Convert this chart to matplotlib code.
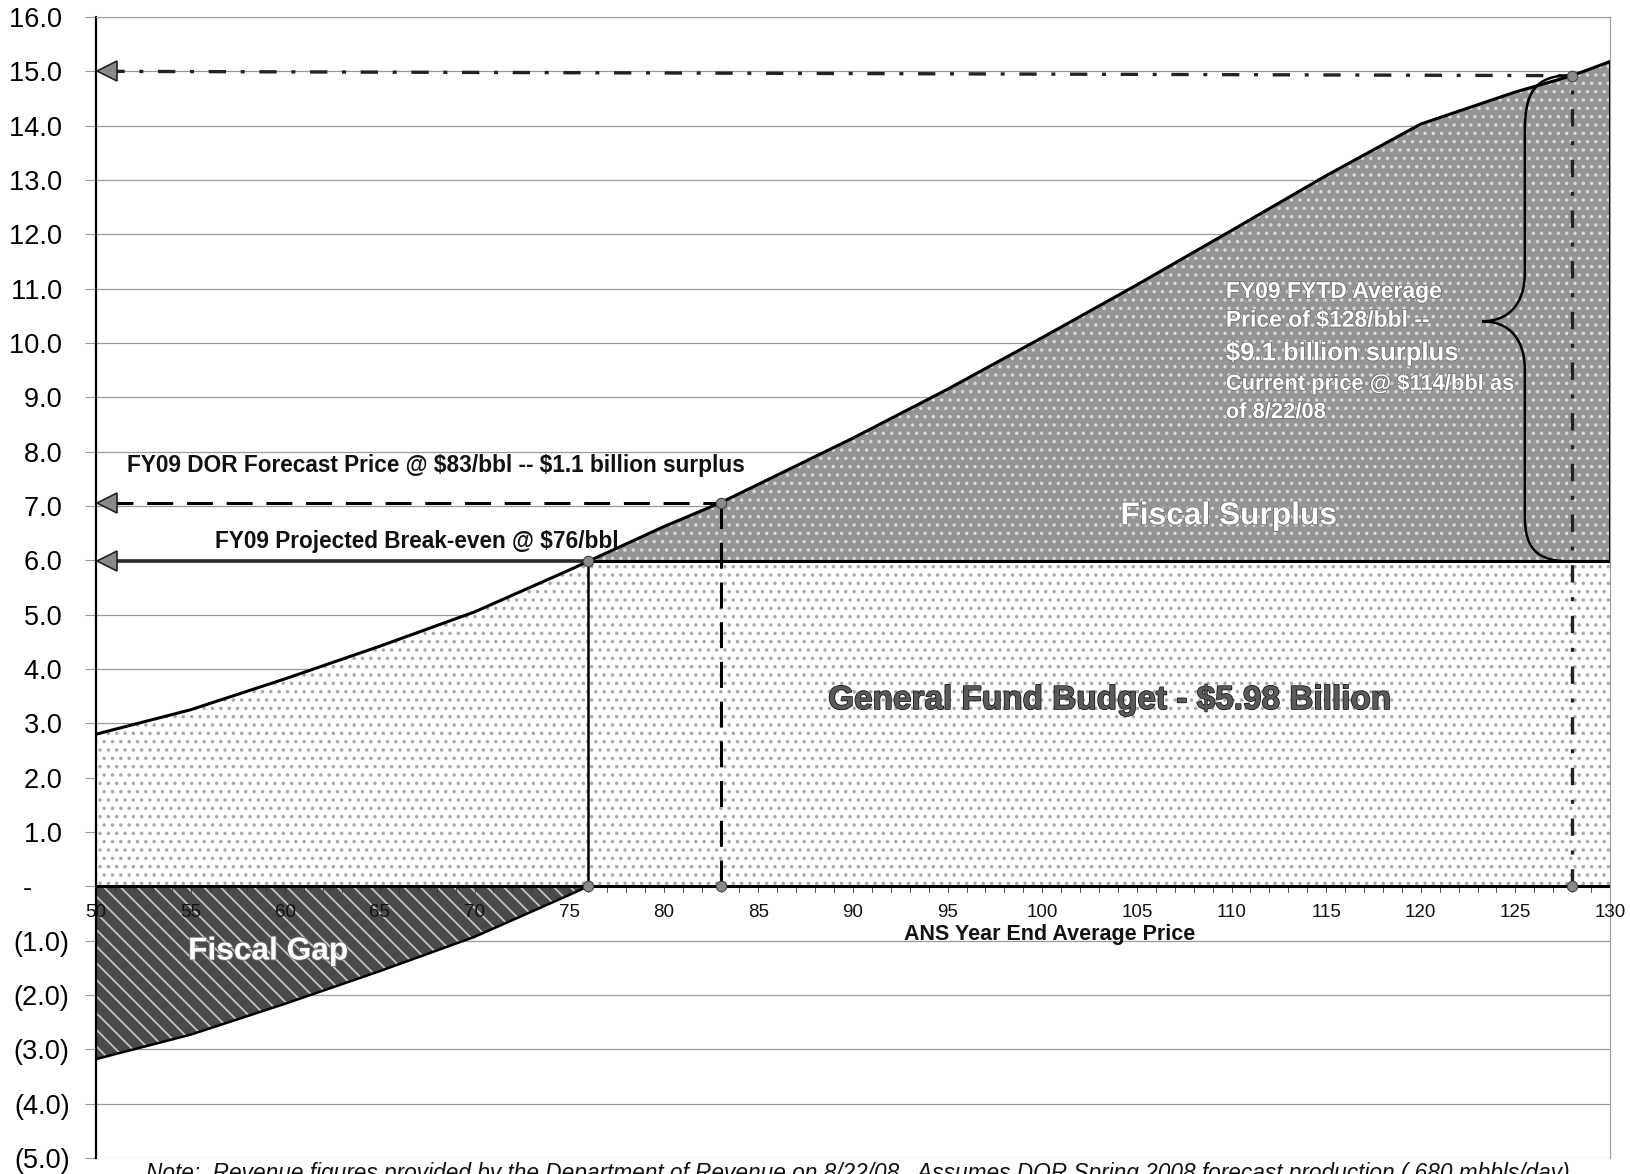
import matplotlib
matplotlib.use('Agg')
import matplotlib.pyplot as plt
import matplotlib.patheffects as pe
from matplotlib.path import Path
from matplotlib.patches import PathPatch
from matplotlib import font_manager
import numpy as np

# ANS price ($/bbl) vs. FY09 unrestricted revenue ($ billions)
price = [50, 55, 60, 65, 70, 75, 76, 80, 83, 85, 90, 95, 100, 105, 110, 115, 120, 125, 128, 130]
revenue = [2.80, 3.25, 3.82, 4.42, 5.05, 5.82, 5.98, 6.62, 7.06, 7.40, 8.25, 9.15,
           10.10, 11.07, 12.07, 13.08, 14.03, 14.62, 14.92, 15.18]
budget = 5.98
breakeven_price = 76
dor_price = 83
fytd_price = 128
fytd_level = 15.0

y_ticks = list(range(-5, 17))
y_labels = []
for v in y_ticks:
    if v > 0:
        y_labels.append(f"{v:.1f} ")
    elif v == 0:
        y_labels.append("-     ")
    else:
        y_labels.append(f"({-v:.1f})")
x_ticks = list(range(50, 131, 5))

names = {f.name for f in font_manager.fontManager.ttflist}
narrow = 'Liberation Sans Narrow' if 'Liberation Sans Narrow' in names else 'Liberation Sans'
plt.rcParams['font.family'] = ['Liberation Sans', 'DejaVu Sans']
plt.rcParams['hatch.linewidth'] = 1.3

p = np.array(price, dtype=float)
r = np.array(revenue)
r_dor = np.interp(dor_price, p, r)
r_fytd = np.interp(fytd_price, p, r)

fig = plt.figure(figsize=(16.31, 11.74), dpi=100)
ax = fig.add_axes([96 / 1631, 16 / 1174, (1610 - 96) / 1631, (1158 - 17) / 1174])
ax.set_xlim(50, 130)
ax.set_ylim(-5, 16)
ax.set_axisbelow(True)

# grid
ax.set_yticks(y_ticks)
ax.set_yticklabels(y_labels, fontsize=19.5)
ax.yaxis.grid(True, color='#9a9a9a', lw=0.9)
ax.tick_params(axis='y', length=8, color='#9a9a9a', pad=11)

ax.spines['bottom'].set_visible(False)
ax.spines['top'].set_color('#9a9a9a')
ax.spines['right'].set_color('#9a9a9a')
ax.spines['left'].set_linewidth(1.6)
ax.set_xticks([])

# x tick labels sit just under the zero line, over the fills
for v in x_ticks:
    ax.text(v, -0.48, str(v), fontsize=13.5, family=narrow, ha='center', va='center',
            color='#111111', zorder=8)
for v in range(51, 130):
    ax.plot([v, v], [0, -0.1], color='#333333', lw=0.6, zorder=3)

# fills
ax.fill_between(p, 0, np.minimum(r, budget), facecolor='white', edgecolor='#a8a8a8',
                hatch='..', lw=0, zorder=1)
ax.fill_between(p, budget, r, where=r >= budget, interpolate=True, facecolor='#959595',
                edgecolor='#d8d8d8', hatch='..', lw=0, zorder=1)
ax.fill_between(p, r - budget, 0, where=r <= budget, interpolate=True, facecolor='#4a4a4a',
                edgecolor='#c4c4c4', hatch='\\\\', lw=0, zorder=1)

# outlines
ax.plot(p, r, color='black', lw=2.2, zorder=4)
ax.plot(p[r <= budget], (r - budget)[r <= budget], color='black', lw=1.8, zorder=4)
ax.axhline(0, color='black', lw=2.2, zorder=4)
ax.plot([breakeven_price, 130], [budget, budget], color='black', lw=2.2, zorder=4)
ax.plot([130, 130], [budget, r[-1]], color='black', lw=2.2, zorder=4)

# reference lines
ax.plot([50.6, breakeven_price], [budget, budget], color='#2a2a2a', lw=2.6, zorder=5)
ax.plot([breakeven_price, breakeven_price], [0, budget], color='black', lw=1.8, zorder=5)
ax.plot([50.6, dor_price], [r_dor, r_dor], color='black', lw=2.2, zorder=5,
        dashes=(8.5, 4.5))
ax.plot([dor_price, dor_price], [0, r_dor], color='black', lw=2.2, zorder=5,
        dashes=(8.5, 4.5))
ax.plot([50.6, fytd_price], [fytd_level, r_fytd], color='#222222', lw=2.4, zorder=5,
        dashes=(5.2, 4.4, 1.2, 4.4))
ax.plot([fytd_price, fytd_price], [0, r_fytd], color='#222222', lw=2.4, zorder=5,
        dashes=(5.2, 4.4, 1.2, 4.4))

# arrowheads and markers
ax.plot([50.6] * 3, [budget, r_dor, fytd_level], marker='<', ls='none', ms=14,
        mfc='#8a8a8a', mec='#222222', mew=1.2, zorder=6, clip_on=False)
ax.plot([breakeven_price, breakeven_price, dor_price, dor_price, fytd_price, fytd_price],
        [budget, 0, r_dor, 0, r_fytd, 0], marker='o', ls='none', ms=7.5,
        mfc='#8a8a8a', mec='#444444', mew=0.8, zorder=6)

# curly brace
tip_y = 10.4
verts = [(128.0, 14.93), (126.0, 14.93), (125.5, 14.6), (125.5, 13.9),
         (125.5, 11.3),
         (125.5, 10.7), (124.6, 10.4), (123.25, tip_y),
         (124.6, 10.4), (125.5, 10.1), (125.5, 9.5),
         (125.5, 6.8),
         (125.5, 6.2), (126.2, 5.98), (127.9, 5.98)]
codes = [Path.MOVETO, Path.CURVE4, Path.CURVE4, Path.CURVE4,
         Path.LINETO,
         Path.CURVE4, Path.CURVE4, Path.CURVE4,
         Path.CURVE4, Path.CURVE4, Path.CURVE4,
         Path.LINETO,
         Path.CURVE4, Path.CURVE4, Path.CURVE4]
ax.add_patch(PathPatch(Path(verts, codes), facecolor='none', edgecolor='black', lw=1.8,
                       zorder=5))

# annotations
ax.text(51.65, 7.75, "FY09 DOR Forecast Price @ \\$83/bbl -- \\$1.1 billion surplus",
        fontsize=16.3, fontweight='bold', va='center', ha='left', color='#111111', zorder=7)
ax.text(56.3, 6.34, "FY09 Projected Break-even @ \\$76/bbl",
        fontsize=16.3, fontweight='bold', va='center', ha='left', color='#111111', zorder=7)

shadow = [pe.withStroke(linewidth=1.2, foreground='#707070')]
ax.text(109.7, 10.95, "FY09 FYTD Average", fontsize=16.5, fontweight='bold', color='white',
        va='center', ha='left', zorder=7, path_effects=shadow)
ax.text(109.7, 10.42, "Price of \\$128/bbl --", fontsize=16.5, fontweight='bold',
        color='white', va='center', ha='left', zorder=7, path_effects=shadow)
ax.text(109.7, 9.81, "\\$9.1 billion surplus", fontsize=18.5, fontweight='bold', color='white',
        va='center', ha='left', zorder=7, path_effects=shadow)
ax.text(109.7, 9.24, "Current price @ \\$114/bbl as", fontsize=15.8, fontweight='bold',
        color='white', va='center', ha='left', zorder=7, path_effects=shadow)
ax.text(109.7, 8.72, "of 8/22/08", fontsize=15.8, fontweight='bold', color='white',
        va='center', ha='left', zorder=7, path_effects=shadow)

ax.text(109.85, 6.81, "Fiscal Surplus", fontsize=22.8, fontweight='bold', color='white',
        va='center', ha='center', zorder=7, path_effects=shadow)
ax.text(59.1, -1.2, "Fiscal Gap", fontsize=22.8, fontweight='bold', color='white',
        va='center', ha='center', zorder=7, path_effects=shadow)
ax.text(103.6, 3.42, "General Fund Budget - \\$5.98 Billion", fontsize=24, fontweight='bold',
        color='#5a5a5a', va='center', ha='center', zorder=7,
        path_effects=[pe.withStroke(linewidth=1.1, foreground='#111111')])
ax.text(100.4, -0.88, "ANS Year End Average Price", fontsize=15.5, fontweight='bold',
        color='#111111', va='center', ha='center', zorder=7)

# note runs off the bottom edge, as in the scanned original
fig.text(0.526, 0.0105, "Note:  Revenue figures provided by the Department of Revenue on 8/22/08.  "
         "Assumes DOR Spring 2008 forecast production (.680 mbbls/day)",
         fontsize=16.3, style='italic', ha='center', va='top', color='#111111')

fig.savefig('out.png', dpi=100)
